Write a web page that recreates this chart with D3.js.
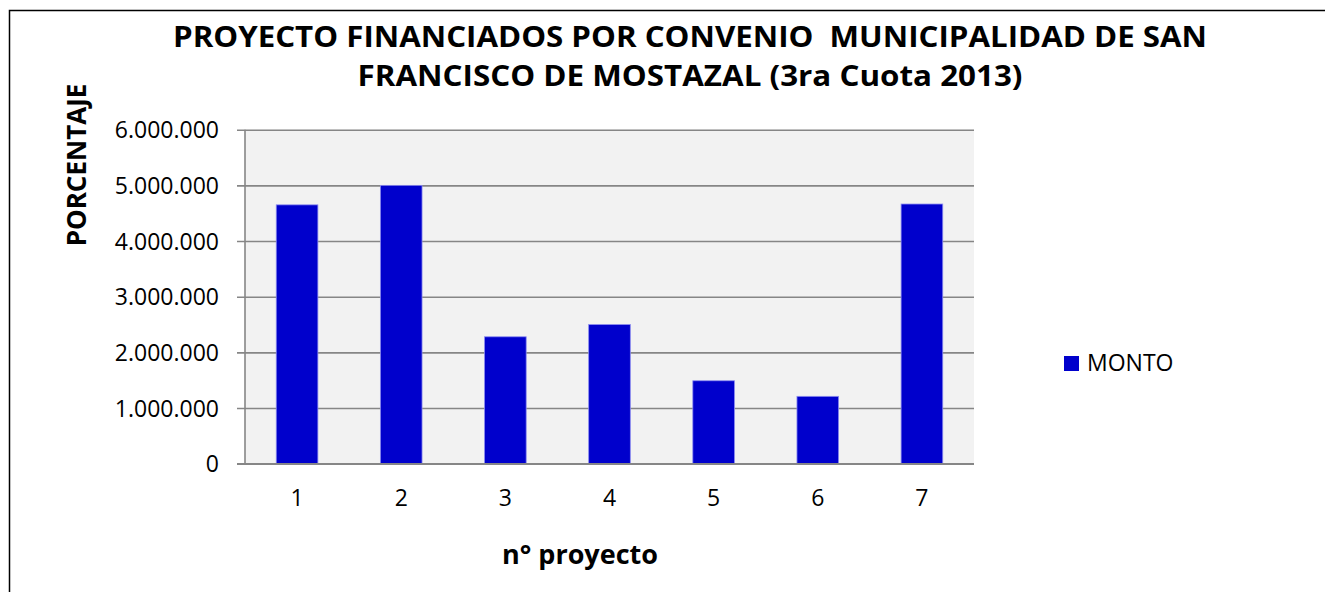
<!DOCTYPE html>
<html>
<head>
<meta charset="utf-8">
<script src="https://cdn.jsdelivr.net/npm/d3@7.9.0/dist/d3.min.js"></script>
<style>
  html, body { margin: 0; padding: 0; background: #fff; }
  svg { display: block; }
  text { font-family: 'Open Sans', sans-serif; fill: #000; }
</style>
</head>
<body>
<svg id="chart" width="1325" height="592"></svg>
<script>
// data
const proyectos = ['1', '2', '3', '4', '5', '6', '7'];
const montos = [4650000, 5000000, 2280000, 2500000, 1490000, 1210000, 4665000];
const yTicks = [0, 1000000, 2000000, 3000000, 4000000, 5000000, 6000000];
const seriesName = 'MONTO';
const titleLines = [
  'PROYECTO FINANCIADOS POR CONVENIO  MUNICIPALIDAD DE SAN',
  'FRANCISCO DE MOSTAZAL (3ra Cuota 2013)'
];

const barColor = '#0000cc';
const gridColor = '#868686';

const plot = { left: 245, right: 974, top: 129.7, bottom: 463.7 };

const locale = d3.formatLocale({ decimal: ',', thousands: '.', grouping: [3], currency: ['$', ''] });
const fmt = locale.format(',d');

const svg = d3.select('#chart');

// outer frame (only left/top edges visible in the picture)
svg.append('rect')
  .attr('x', 9.5).attr('y', 10.5)
  .attr('width', 1400).attr('height', 700)
  .attr('fill', '#fff')
  .attr('stroke', '#000')
  .attr('stroke-width', 1.5);

const x = d3.scaleBand()
  .domain(proyectos)
  .range([plot.left, plot.right])
  .paddingInner(0.6)
  .paddingOuter(0.3);

const y = d3.scaleLinear()
  .domain([0, 6000000])
  .range([plot.bottom, plot.top]);

// plot background
svg.append('rect')
  .attr('x', plot.left).attr('y', plot.top)
  .attr('width', plot.right - plot.left)
  .attr('height', plot.bottom - plot.top)
  .attr('fill', '#f2f2f2');

// gridlines + y axis
const yAxis = d3.axisLeft(y)
  .tickValues(yTicks)
  .tickFormat(fmt)
  .tickSize(-(plot.right - plot.left))
  .tickPadding(0);

const gy = svg.append('g')
  .attr('transform', `translate(${plot.left},0)`)
  .call(yAxis);

gy.select('.domain').remove();
gy.selectAll('.tick line')
  .attr('x1', -8)
  .attr('stroke', gridColor)
  .attr('stroke-width', 1.6);
gy.selectAll('.tick text')
  .attr('x', -26)
  .attr('dy', '0.36em')
  .style('font-size', '23px')
  .style('font-family', "'Open Sans', sans-serif")
  .attr('fill', '#000');

// vertical axis line
svg.append('line')
  .attr('x1', plot.left).attr('x2', plot.left)
  .attr('y1', plot.top).attr('y2', plot.bottom)
  .attr('stroke', gridColor)
  .attr('stroke-width', 1.6);

// bars
svg.append('g')
  .selectAll('rect')
  .data(montos)
  .join('rect')
  .attr('x', (d, i) => x(proyectos[i]))
  .attr('y', d => y(d))
  .attr('width', x.bandwidth())
  .attr('height', d => y(0) - y(d))
  .attr('fill', barColor)
  .attr('stroke', '#8c8cf0')
  .attr('stroke-width', 0.8);

// x axis
const xAxis = d3.axisBottom(x).tickSize(0).tickPadding(0);
const gx = svg.append('g')
  .attr('transform', `translate(0,${plot.bottom})`)
  .call(xAxis);
gx.select('.domain').remove();
gx.selectAll('.tick text')
  .attr('y', 42)
  .attr('dy', 0)
  .style('font-size', '23px')
  .style('font-family', "'Open Sans', sans-serif")
  .attr('fill', '#000');

svg.append('line')
  .attr('x1', plot.left - 8).attr('x2', plot.right)
  .attr('y1', plot.bottom).attr('y2', plot.bottom)
  .attr('stroke', gridColor)
  .attr('stroke-width', 1.6);

// title (keep the double space of the original)
titleLines.forEach((line, i) => {
  svg.append('text')
    .attr('x', 690).attr('y', i === 0 ? 47 : 86)
    .attr('text-anchor', 'middle')
    .attr('textLength', i === 0 ? 1034 : 665)
    .attr('lengthAdjust', 'spacingAndGlyphs')
    .style('white-space', 'pre')
    .style('font-size', '28px')
    .style('font-weight', 700)
    .text(line);
});

// axis titles
svg.append('text')
  .attr('transform', 'translate(86,165) rotate(-90)')
  .attr('text-anchor', 'middle')
  .style('font-size', '26px')
  .style('font-weight', 700)
  .text('PORCENTAJE');

svg.append('text')
  .attr('x', 580).attr('y', 564)
  .attr('text-anchor', 'middle')
  .style('font-size', '27px')
  .style('font-weight', 700)
  .text('n° proyecto');

// legend
const legend = svg.append('g').attr('transform', 'translate(1064,356)');
legend.append('rect')
  .attr('width', 15).attr('height', 15)
  .attr('fill', barColor);
legend.append('text')
  .attr('x', 23).attr('y', 15)
  .style('font-size', '23px')
  .text(seriesName);
</script>
</body>
</html>
